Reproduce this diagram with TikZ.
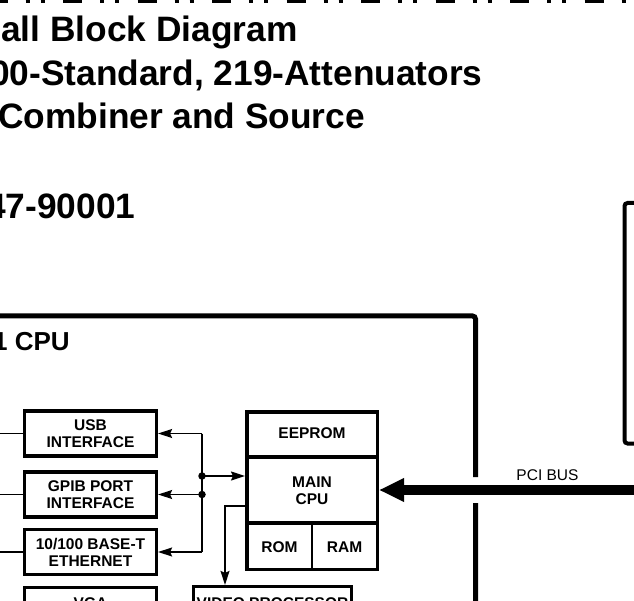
\documentclass[tikz,border=0pt]{standalone}
\usepackage{fontspec}
\setmainfont{Liberation Sans}
\usetikzlibrary{arrows.meta}
\begin{document}
\begin{tikzpicture}[x=1pt,y=-1pt,
  title/.style={anchor=base west,inner sep=0pt,font=\fontsize{35.3pt}{40pt}\selectfont\bfseries},
  sub/.style={anchor=base west,inner sep=0pt,font=\fontsize{26pt}{30pt}\selectfont\bfseries},
  blk/.style={draw,line width=3.2pt,minimum width=132pt,minimum height=45pt,inner sep=0pt,align=center,
    font=\fontsize{15.5pt}{17pt}\selectfont\bfseries},
  lbl/.style={inner sep=0pt,align=center,font=\fontsize{15.5pt}{17pt}\selectfont\bfseries},
  thin/.style={line width=1.5pt},
  arr/.style={line width=1.5pt,-{Stealth[length=14pt,width=9pt,inset=2pt]}},
  thickbox/.style={line width=5pt,rounded corners=3pt},
  dot/.style={circle,fill,inner sep=0pt,minimum size=7.5pt}
]
\useasboundingbox (0,0) rectangle (634,601);
\clip (0,0) rectangle (634,601);

% top dash-dot-dot line
\draw[line width=3pt,dash pattern=on 19pt off 18pt on 4pt off 11pt on 4pt off 18.5pt] (-11.5,1.5) -- (650,1.5);

% titles
\node[title] (t1) at (1,42) {all Block Diagram};
\node[title] (t2) at (-10,86) {00-Standard, 219-Attenuators};
\node[title] (t3) at (-2,129) {Combiner and Source};
\node[title] (t4) at (-14,219) {47-90001};

% right box (partly off the picture)
\node[draw,line width=4pt,rounded corners=3pt,minimum width=95.5pt,minimum height=240.5pt] (rightbox) at (672.25,323.25) {};

% CPU board outline
\draw[thickbox] (-10,316) -- (475.5,316) -- (475.5,477) (475.5,503) -- (475.5,620);
\node[sub] (cpulabel) at (-7,350) {1 CPU};

% left interface blocks
\node[blk] (usb) at (90.5,433.5) {USB\\INTERFACE};
\node[blk] (gpib) at (90.5,494.5) {GPIB PORT\\INTERFACE};
\node[blk] (eth) at (90.5,552) {10/100 BASE-T\\ETHERNET};
\node[blk] (vga) at (90.5,610) {};
\node[lbl,anchor=base] (vgatext) at (90.5,608) {VGA};

% main CPU block
\node[draw,line width=3.5pt,minimum width=130.5pt,minimum height=157.5pt,inner sep=0pt] (cpubox) at (312,490.5) {};
\draw[line width=3.5pt] (cpubox.west |- 0,457) -- (cpubox.east |- 0,457);
\draw[line width=3.5pt] (cpubox.west |- 0,523) -- (cpubox.east |- 0,523);
\draw[line width=2pt] (312,523) -- (cpubox.south -| 312,0);
\node[lbl] (eeprom) at (312,433.5) {EEPROM};
\node[lbl] (maincpu) at (312,490.5) {MAIN\\CPU};
\node[lbl] (rom) at (279.4,547.5) {ROM};
\node[lbl] (ram) at (344.6,547.5) {RAM};

% video processor
\node[blk,minimum width=158pt] (video) at (272.5,609) {};
\node[lbl,anchor=base] (videotext) at (272.5,608) {VIDEO PROCESSOR};

% connectors
\coordinate (leftx) at (-5,0);
\coordinate (busx) at (202,0);
\draw[thin] (usb.west) -- (usb.west -| leftx);
\draw[thin] (gpib.west) -- (gpib.west -| leftx);
\draw[thin] (eth.west) -- (eth.west -| leftx);
\draw[thin] (usb.east -| busx) -- (eth.east -| busx);
\draw[arr] (usb.east -| busx) -- (usb.east);
\draw[arr] (gpib.east -| busx) -- (gpib.east);
\draw[arr] (eth.east -| busx) -- (eth.east);
\node[dot] (dot1) at (202,476) {};
\node[dot] (dot2) at (gpib.east -| busx) {};
\draw[arr] (dot1.center) -- (dot1 -| cpubox.west);
\coordinate (vbend) at (225,506);
\draw[arr] (cpubox.west |- vbend) -- (vbend) -- (vbend |- video.north);

% PCI bus
\coordinate (pcisrc) at (645,490);
\draw[line width=10pt,-{Triangle[length=25pt,width=22pt]}] (pcisrc) -- (cpubox.east |- pcisrc);
\node[inner sep=0pt,anchor=base,font=\fontsize{15.5pt}{17pt}\selectfont] (pcilabel) at (547.5,480) {PCI BUS};
\end{tikzpicture}
\end{document}
